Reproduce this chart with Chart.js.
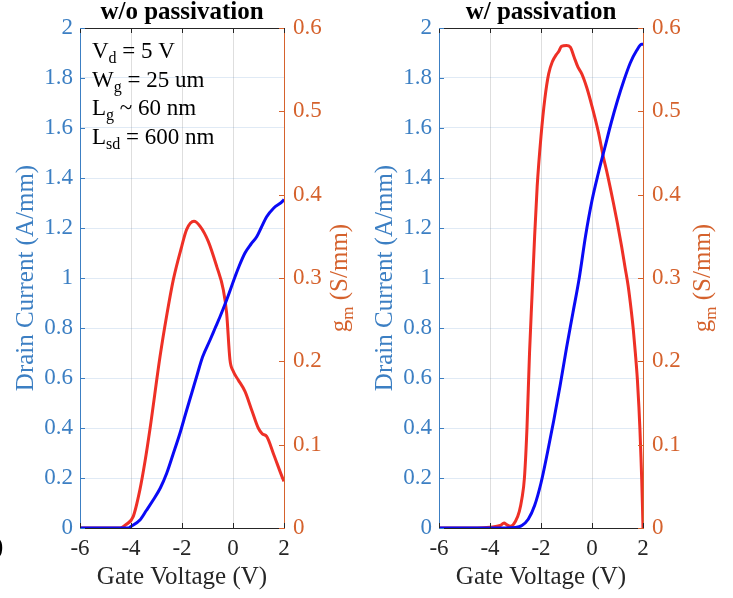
<!DOCTYPE html>
<html>
<head>
<meta charset="utf-8">
<script src="https://cdn.jsdelivr.net/npm/chart.js@4"></script>
<style>
  body { margin: 0; background: #fff; }
  #wrap { position: relative; width: 733px; height: 598px; overflow: hidden; }
  canvas { position: absolute; top: 0; }
</style>
</head>
<body>
<div id="wrap">
  <canvas id="chart-left" width="374" height="598" style="left:0"></canvas>
  <canvas id="chart-right" width="374" height="598" style="left:359px"></canvas>
</div>
<script>
"strict";

// values (gate voltage in V, drain current in A/mm, gm in S/mm)
const xTicks = [-6, -4, -2, 0, 2];
const currentTicks = [0, 0.2, 0.4, 0.6, 0.8, 1, 1.2, 1.4, 1.6, 1.8, 2];
const gmTicks = [0, 0.1, 0.2, 0.3, 0.4, 0.5, 0.6];

// w/o passivation
const noPassIdV = [-6, -4.1, -4.0, -3.65, -3.4, -3.13, -2.85, -2.6, -2.35, -2.08, -1.85, -1.62, -1.4, -1.19,
  -0.9, -0.7, -0.51, -0.25, 0.08, 0.25, 0.47, 0.7, 0.93, 1.1, 1.32, 1.6, 1.97, 2.0];
const noPassId = [0, 0, 0.006, 0.032, 0.07, 0.112, 0.16, 0.219, 0.295, 0.379, 0.46, 0.539, 0.615, 0.685,
  0.752, 0.8, 0.845, 0.912, 1.005, 1.05, 1.1, 1.135, 1.165, 1.2, 1.245, 1.28, 1.31, 1.315];

const noPassGmV = [-6, -4.43, -4.2, -3.91, -3.65, -3.45, -3.25, -2.86, -2.6, -2.34, -2.01, -1.82, -1.53,
  -1.29, -0.97, -0.64, -0.38, -0.25, -0.12, 0.01, 0.2, 0.47, 0.75, 0.99, 1.15, 1.32, 1.6, 1.97, 2.0];
const noPassGm = [0, 0, 0.004, 0.014, 0.046, 0.08, 0.12, 0.206, 0.255, 0.298, 0.338, 0.358, 0.368,
  0.362, 0.344, 0.314, 0.286, 0.258, 0.202, 0.188, 0.178, 0.164, 0.14, 0.12, 0.113, 0.11, 0.088, 0.058, 0.056];

// w/ passivation
const passIdV = [-6, -3.4, -3.0, -2.75, -2.5, -2.25, -2.0, -1.75, -1.5, -1.25, -1.0, -0.75, -0.5, -0.25,
  0, 0.25, 0.5, 0.75, 1.0, 1.25, 1.5, 1.75, 1.95, 2.0];
const passId = [0, 0, 0.002, 0.01, 0.035, 0.09, 0.18, 0.3, 0.43, 0.57, 0.72, 0.86, 1.0, 1.17,
  1.31, 1.42, 1.52, 1.62, 1.71, 1.79, 1.86, 1.91, 1.935, 1.935];

const passGmV = [-6, -4.5, -4.0, -3.6, -3.45, -3.35, -3.2, -3.0, -2.85, -2.75, -2.65, -2.55, -2.45, -2.35,
  -2.25, -2.15, -2.0, -1.85, -1.7, -1.55, -1.4, -1.3, -1.2, -1.0, -0.85, -0.7, -0.55, -0.4, -0.2,
  0.0, 0.25, 0.44, 0.6, 0.84, 1.0, 1.16, 1.3, 1.42, 1.55, 1.62, 1.7, 1.78, 1.84, 1.88, 1.92, 1.95, 1.98, 2.0];
const passGm = [0, 0, 0.001, 0.003, 0.006, 0.004, 0.002, 0.008, 0.02, 0.035, 0.06, 0.12, 0.21, 0.28,
  0.35, 0.41, 0.47, 0.515, 0.545, 0.56, 0.568, 0.572, 0.578, 0.579, 0.577, 0.565, 0.553, 0.545, 0.528,
  0.506, 0.475, 0.446, 0.425, 0.39, 0.365, 0.338, 0.312, 0.29, 0.258, 0.238, 0.21, 0.178, 0.145, 0.118, 0.085, 0.058, 0.025, 0];

const blueAxis = "#3c7fc3";
const orangeAxis = "#d5622d";
const darkAxis = "#262626";
const serif = "'Liberation Serif', 'Times New Roman', serif";

function toPoints(xs, ys) {
  return xs.map((x, i) => ({ x: x, y: ys[i] }));
}

// draws inward tick marks, top border, the panel title, the gm label and the notes
const decorPlugin = {
  id: "decor",
  afterDraw(chart, args, opts) {
    const ctx = chart.ctx;
    const area = chart.chartArea;
    const sx = chart.scales.x, sy = chart.scales.y, sy2 = chart.scales.y2;
    const tl = 5;
    ctx.save();
    ctx.lineWidth = 1;

    ctx.strokeStyle = darkAxis;
    ctx.beginPath();
    ctx.moveTo(area.left, area.top + 0.5);
    ctx.lineTo(area.right, area.top + 0.5);
    xTicks.forEach(v => {
      const px = Math.round(sx.getPixelForValue(v)) + 0.5;
      ctx.moveTo(px, area.top);
      ctx.lineTo(px, area.top + tl);
      ctx.moveTo(px, area.bottom);
      ctx.lineTo(px, area.bottom - tl);
    });
    ctx.stroke();

    ctx.strokeStyle = blueAxis;
    ctx.beginPath();
    currentTicks.forEach(v => {
      const py = Math.round(sy.getPixelForValue(v)) + 0.5;
      ctx.moveTo(area.left, py);
      ctx.lineTo(area.left + tl, py);
    });
    ctx.stroke();

    ctx.strokeStyle = orangeAxis;
    ctx.beginPath();
    gmTicks.forEach(v => {
      const py = Math.round(sy2.getPixelForValue(v)) + 0.5;
      ctx.moveTo(area.right, py);
      ctx.lineTo(area.right - tl, py);
    });
    ctx.stroke();

    // panel title
    ctx.fillStyle = "#000";
    ctx.font = "bold 25px " + serif;
    ctx.textAlign = "center";
    ctx.textBaseline = "alphabetic";
    ctx.fillText(opts.title, (area.left + area.right) / 2, 19);

    // g_m (S/mm), rotated, reading upward
    ctx.save();
    ctx.translate(opts.gmX, (area.top + area.bottom) / 2);
    ctx.rotate(-Math.PI / 2);
    ctx.fillStyle = orangeAxis;
    ctx.textAlign = "left";
    const big = "25px " + serif, small = "17px " + serif;
    ctx.font = big;
    const wg = ctx.measureText("g").width;
    const wrest = ctx.measureText(" (S/mm)").width;
    ctx.font = small;
    const wm = ctx.measureText("m").width;
    let x0 = -(wg + wm + wrest) / 2;
    ctx.font = big;
    ctx.fillText("g", x0, 0);
    ctx.font = small;
    ctx.fillText("m", x0 + wg, 6);
    ctx.font = big;
    ctx.fillText(" (S/mm)", x0 + wg + wm, 0);
    ctx.restore();

    // notes with subscripts
    if (opts.notes) {
      ctx.fillStyle = "#000";
      ctx.textAlign = "left";
      opts.notes.forEach((parts, i) => {
        let x = 92;
        const y = 58 + i * 28.5;
        parts.forEach(([text, sub]) => {
          ctx.font = (sub ? "16px " : "23px ") + serif;
          ctx.fillText(text, x, sub ? y + 5 : y);
          x += ctx.measureText(text).width;
        });
      });
    }

    if (opts.edgeMark) {
      ctx.fillStyle = "#000";
      ctx.font = "25px " + serif;
      ctx.textAlign = "left";
      ctx.fillText(")", -5, 554);
    }
    ctx.restore();
  }
};

function renderPanel(canvasId, idV, id, gmV, gm, decor) {
  const ctx = document.getElementById(canvasId).getContext("2d");
  return new Chart(ctx, {
    type: "line",
    data: {
      datasets: [
        {
          label: "Drain Current",
          data: toPoints(idV, id),
          yAxisID: "y",
          borderColor: "#0a0af5",
          borderWidth: 3,
          pointRadius: 0,
          cubicInterpolationMode: "monotone",
        },
        {
          label: "gm",
          data: toPoints(gmV, gm),
          yAxisID: "y2",
          borderColor: "#ee3026",
          borderWidth: 3,
          pointRadius: 0,
          cubicInterpolationMode: "monotone",
        },
      ],
    },
    options: {
      responsive: false,
      animation: false,
      layout: { padding: { top: 28, left: 0, right: 0, bottom: 0 } },
      plugins: {
        legend: { display: false },
        tooltip: { enabled: false },
        decor: decor,
      },
      scales: {
        x: {
          type: "linear",
          min: -6,
          max: 2,
          afterFit: s => { s.height = 70; },
          afterBuildTicks: s => { s.ticks = xTicks.map(v => ({ value: v })); },
          ticks: { color: darkAxis, padding: 7, maxRotation: 0, callback: v => String(v),
            font: { family: serif, size: 23 } },
          grid: { color: "rgba(0,0,0,0.13)", drawTicks: false },
          border: { color: darkAxis },
          title: {
            display: true,
            text: "Gate Voltage (V)",
            color: darkAxis,
            padding: { top: 0, bottom: 8.5 },
            font: { family: serif, size: 25, lineHeight: 1 },
          },
        },
        y: {
          position: "left",
          min: 0,
          max: 2,
          afterFit: s => { s.width = 80; },
          afterBuildTicks: s => { s.ticks = currentTicks.map(v => ({ value: v })); },
          ticks: { color: blueAxis, padding: 7, callback: v => String(v),
            font: { family: serif, size: 23 } },
          grid: { color: "rgba(60,127,195,0.16)", drawTicks: false },
          border: { color: blueAxis },
          title: {
            display: true,
            text: "Drain Current (A/mm)",
            color: blueAxis,
            padding: { top: 13.5, bottom: 0 },
            font: { family: serif, size: 25, lineHeight: 1 },
          },
        },
        y2: {
          position: "right",
          min: 0,
          max: 0.6,
          afterFit: s => { s.width = 90; },
          afterBuildTicks: s => { s.ticks = gmTicks.map(v => ({ value: v })); },
          ticks: { color: orangeAxis, padding: 9, callback: v => String(v),
            font: { family: serif, size: 23 } },
          grid: { display: false, drawTicks: false },
          border: { color: orangeAxis },
        },
      },
    },
    plugins: [decorPlugin],
  });
}

const leftNotes = [
  [["V"], ["d", true], [" = 5 V"]],
  [["W"], ["g", true], [" = 25 um"]],
  [["L"], ["g", true], [" ~ 60 nm"]],
  [["L"], ["sd", true], [" = 600 nm"]],
];

const leftChart = renderPanel("chart-left", noPassIdV, noPassId, noPassGmV, noPassGm,
  { title: "w/o passivation", gmX: 347, notes: leftNotes, edgeMark: true });

const rightChart = renderPanel("chart-right", passIdV, passId, passGmV, passGm,
  { title: "w/ passivation", gmX: 351 });
</script>
</body>
</html>
